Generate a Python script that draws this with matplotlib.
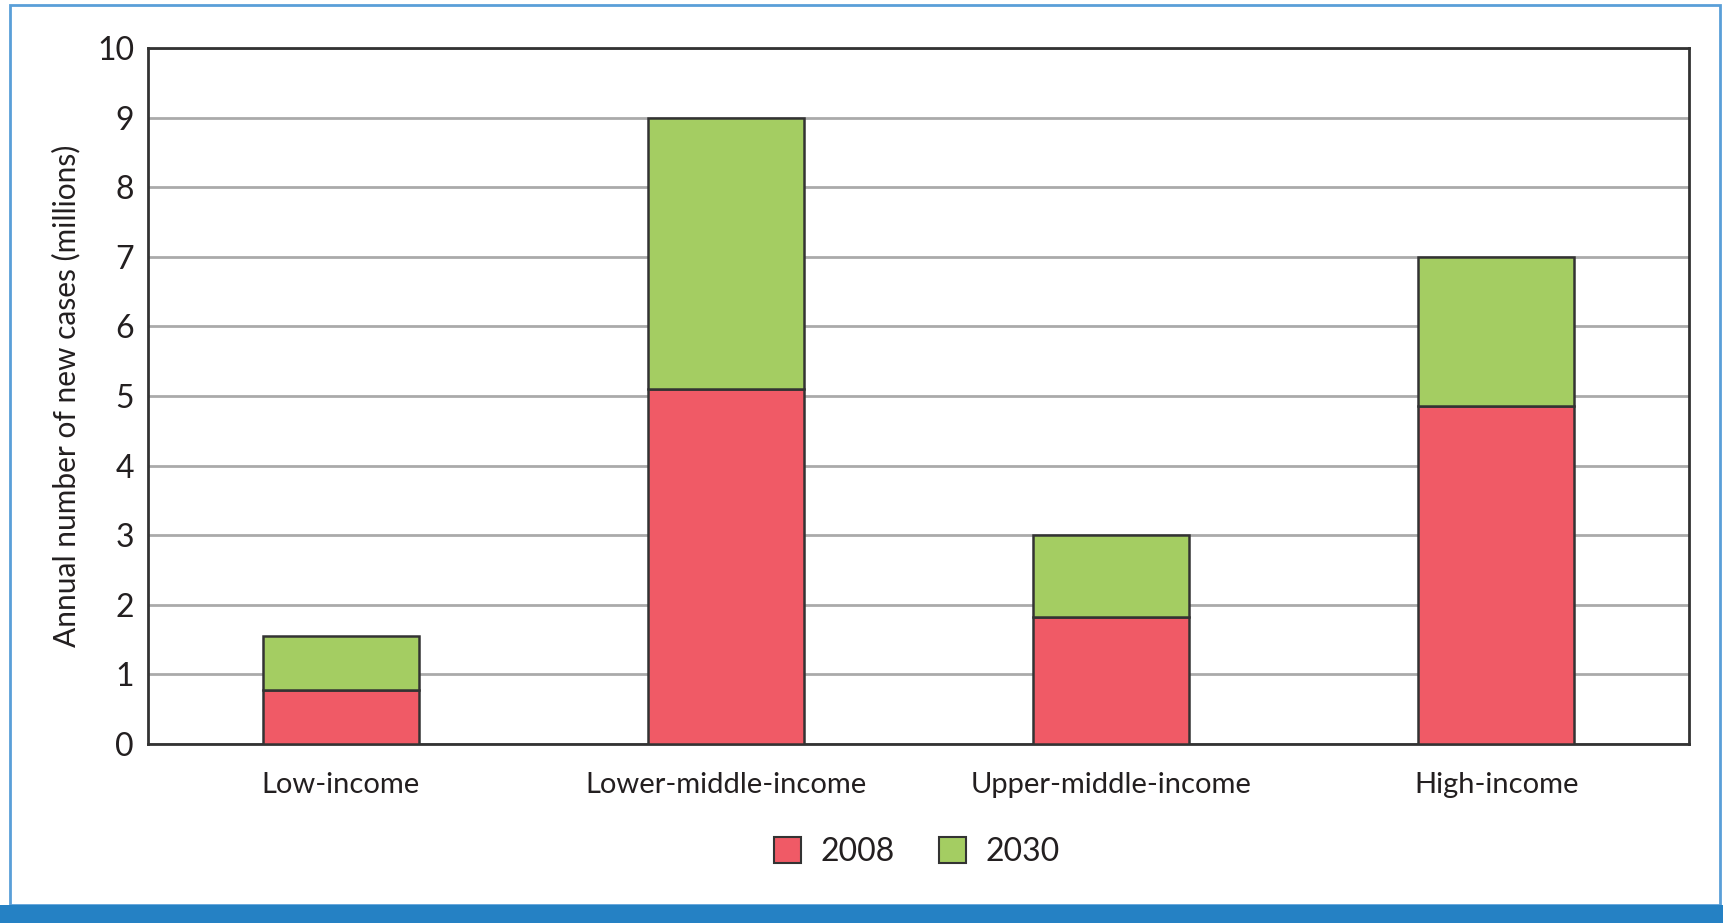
import matplotlib
matplotlib.use("Agg")
import matplotlib.pyplot as plt
from matplotlib.patches import Rectangle, Patch

categories = ["Low-income", "Lower-middle-income", "Upper-middle-income", "High-income"]
cases_2008 = [0.77, 5.10, 1.83, 4.86]
cases_2030_increment = [0.78, 3.90, 1.17, 2.14]
series_labels = ["2008", "2030"]
yticks = list(range(0, 11))

RED = "#F05A66"
GREEN = "#A4CD62"
EDGE = "#333333"
TEXT = "#231F20"

plt.rcParams['font.family'] = ['Lato', 'DejaVu Sans']

fig = plt.figure(figsize=(17.23, 9.23), dpi=100)
ax = fig.add_axes([148/1723, 1-744/923, (1689-148)/1723, (744-48)/923])

x = list(range(len(categories)))
w = 0.405
ax.bar(x, cases_2008, width=w, color=RED, edgecolor=EDGE, linewidth=1.8, zorder=3)
ax.bar(x, cases_2030_increment, width=w, bottom=cases_2008, color=GREEN,
       edgecolor=EDGE, linewidth=1.8, zorder=3)

ax.set_xlim(-0.5, len(categories) - 0.5)
ax.set_ylim(0, 10)
ax.set_yticks(yticks)
ax.set_yticklabels([str(t) for t in yticks], fontsize=23, color=TEXT)
ax.set_xticks(x)
ax.set_xticklabels(categories, fontsize=21, color=TEXT)
ax.tick_params(axis='y', length=0, pad=10)
ax.tick_params(axis='x', length=0, pad=20)
ax.yaxis.grid(True, color="#AAAAAA", linewidth=2, zorder=0)
ax.set_axisbelow(True)
for s in ax.spines.values():
    s.set_color(EDGE)
    s.set_linewidth(2)

ax.set_ylabel("Annual number of new cases (millions)", fontsize=21.5, color=TEXT, labelpad=12)

handles = [Patch(facecolor=RED, edgecolor=EDGE, linewidth=1.5),
           Patch(facecolor=GREEN, edgecolor=EDGE, linewidth=1.5)]
fig.legend(handles, series_labels, loc="center", bbox_to_anchor=(0.532, 0.077),
           ncol=2, frameon=False, fontsize=23, handlelength=0.85, handleheight=0.85,
           columnspacing=1.4, handletextpad=0.6, labelcolor=TEXT)

# outer frame and bottom band
fig.patches.append(Rectangle((10/1723, 18/923), 1710/1723, (918-18)/923, transform=fig.transFigure,
                             fill=False, edgecolor="#5A9FD8", linewidth=2))
fig.patches.append(Rectangle((0, 0), 1, 18/923, transform=fig.transFigure,
                             facecolor="#2581C4", edgecolor="none"))

fig.savefig("out.png", dpi=100, facecolor="white")
